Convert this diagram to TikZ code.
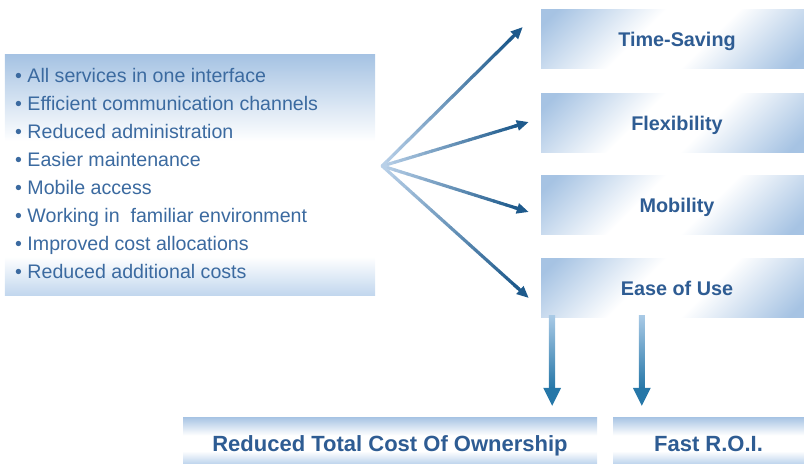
\documentclass[tikz,border=0pt]{standalone}
\usepackage{fontspec}
\setmainfont{Liberation Sans}
\usetikzlibrary{arrows.meta,calc}
\definecolor{bxBlue}{HTML}{A6C3E3}
\definecolor{bxLight}{HTML}{C2D7EE}
\definecolor{txtBold}{HTML}{2E5C93}
\definecolor{txtList}{HTML}{3B6AA0}
\definecolor{fanLight}{HTML}{B8D0E8}
\definecolor{fanDark}{HTML}{1E5A8C}
\definecolor{arrLight}{HTML}{A9CAE6}
\definecolor{arrDark}{HTML}{2677A8}
\pgfdeclareverticalshading{boxv}{100bp}{color(0bp)=(bxLight); color(25bp)=(bxLight); color(33bp)=(white); color(57bp)=(white); color(75bp)=(bxBlue); color(100bp)=(bxBlue)}
\pgfdeclareverticalshading{boxb}{100bp}{color(0bp)=(bxLight); color(25bp)=(bxLight); color(38bp)=(white); color(55bp)=(white); color(75bp)=(bxBlue); color(100bp)=(bxBlue)}
\pgfdeclarehorizontalshading{boxd}{100bp}{color(0bp)=(bxBlue); color(18bp)=(bxBlue); color(42bp)=(white); color(58bp)=(white); color(82bp)=(bxBlue); color(100bp)=(bxBlue)}
\tikzset{
  leftbox/.style={rectangle, shading=boxv, minimum width=370bp, minimum height=240bp, inner sep=0pt},
  listitem/.style={anchor=base west, inner sep=0pt, text=txtList, font=\fontsize{19.6bp}{23bp}\selectfont},
  benefit/.style={rectangle, shading=boxd, shading angle=-45, minimum width=263bp, minimum height=59bp, inner sep=0pt,
    text=txtBold, font=\bfseries\fontsize{19.8bp}{23bp}\selectfont, text height=14.2bp, text depth=0pt},
  result/.style={rectangle, shading=boxb, minimum height=46bp, inner sep=0pt,
    text=txtBold, font=\bfseries\fontsize{22bp}{25bp}\selectfont, text height=23.6bp, text depth=0pt},
  fanhead/.style={-{Triangle[length=12bp,width=10bp]}, line width=3.2bp, fanDark},
}
\begin{document}
\begin{tikzpicture}[x=1bp,y=-1bp]
\useasboundingbox (0,0) rectangle (804,465);
% left box
\node[leftbox] (lbox) at (190,175) {};
\foreach \txt [count=\i] in {All services in one interface, Efficient communication channels, Reduced administration, Easier maintenance, Mobile access, Working in~ familiar environment, Improved cost allocations, Reduced additional costs}{
  \node[listitem] (l\i) at (15,{83+28*(\i-1)}) {• \txt};
}
% right boxes
\node[benefit] (r1) at (672.5,39.5) {\hspace*{9bp}Time-Saving};
\node[benefit] (r2) at (672.5,123) {\hspace*{9bp}Flexibility};
\node[benefit] (r3) at (672.5,205.5) {\hspace*{9bp}Mobility};
\node[benefit] (r4) at (672.5,288.5) {\hspace*{9bp}Ease of Use};
% bottom boxes
\node[result, minimum width=414bp] (b1) at (390,440) {Reduced Total Cost Of Ownership};
\node[result, minimum width=191bp] (b2) at (708.5,440) {Fast R.O.I.};
% fan arrows
\coordinate (o) at ($(lbox.east)+(7,-9)$);
\coordinate (t1) at ($(r1.west)+(-18,-12.5)$);
\coordinate (t2) at ($(r2.west)+(-12,-1)$);
\coordinate (t3) at ($(r3.west)+(-12,6.5)$);
\coordinate (t4) at ($(r4.west)+(-12,9.5)$);
\foreach \t in {1,...,4}{
  \foreach \i in {0,...,21}{
    \pgfmathsetmacro\a{0.93*\i/22}
    \pgfmathsetmacro\b{0.93*(\i+1)/22}
    \pgfmathtruncatemacro\p{100*\i/21}
    \draw[line width=3.2bp, line cap=round, color=fanDark!\p!fanLight] ($(o)!\a!(t\t)$) -- ($(o)!\b!(t\t)$);
  }
  \draw[fanhead] ($(o)!0.9!(t\t)$) -- (t\t);
}
% down arrows
\coordinate (d1s) at ($(r4.south west)+(11,-3)$);
\coordinate (d1e) at ($(b1.north east)+(-45,-11)$);
\coordinate (d2s) at ($(r4.south west)+(101,-3)$);
\coordinate (d2e) at ($(b2.north west)+(29,-11)$);
\foreach \s/\e in {d1s/d1e, d2s/d2e}{
  \shade[top color=arrLight, bottom color=arrDark] ($(\s)+(-3,0)$) rectangle ($(\e)+(3,-17.5)$);
  \fill[arrDark] ($(\e)+(-9,-18)$) -- ($(\e)+(9,-18)$) -- (\e) -- cycle;
}
\end{tikzpicture}
\end{document}
